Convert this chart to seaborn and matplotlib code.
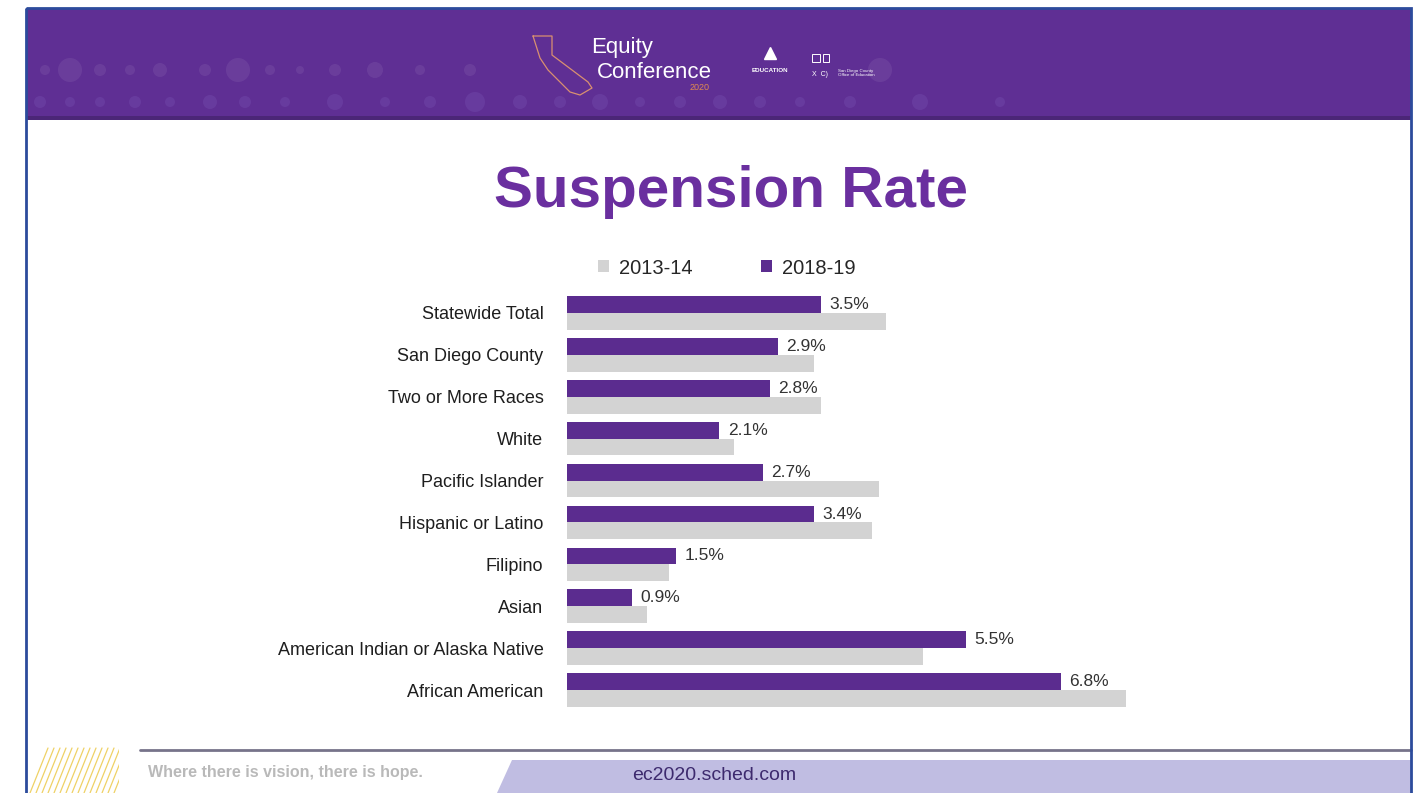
import matplotlib
matplotlib.use("Agg")
import matplotlib.pyplot as plt
import seaborn as sns
import pandas as pd
from matplotlib.patches import Rectangle, Polygon, Circle

categories = ["Statewide Total", "San Diego County", "Two or More Races", "White",
              "Pacific Islander", "Hispanic or Latino", "Filipino", "Asian",
              "American Indian or Alaska Native", "African American"]
rate_2018_19 = [3.5, 2.9, 2.8, 2.1, 2.7, 3.4, 1.5, 0.9, 5.5, 6.8]
rate_2013_14 = [4.4, 3.4, 3.5, 2.3, 4.3, 4.2, 1.4, 1.1, 4.9, 7.7]
series = ["2018-19", "2013-14"]
legend_order = ["2013-14", "2018-19"]
colors = {"2018-19": "#5b2c8f", "2013-14": "#d3d3d3"}

df = pd.DataFrame({
    "category": categories * 2,
    "rate": rate_2018_19 + rate_2013_14,
    "series": ["2018-19"] * len(categories) + ["2013-14"] * len(categories),
})

sns.set_theme(style="white")
plt.rcParams['font.family'] = ['Liberation Sans', 'DejaVu Sans']

W, H = 1421, 793
fig = plt.figure(figsize=(W / 100, H / 100), dpi=100)
fig.patch.set_facecolor("white")

# background / decoration axes in pixel coordinates
bg = fig.add_axes([0, 0, 1, 1])
bg.set_xlim(0, W)
bg.set_ylim(H, 0)
bg.axis("off")

# header band
bg.add_patch(Rectangle((27, 8), 1384, 112, facecolor="#5f2f94", edgecolor="none", zorder=1))
bg.add_patch(Rectangle((27, 116), 1384, 4, facecolor="#4b2677", edgecolor="none", zorder=2))
# decorative dots
dots_row1 = [(45, 5), (70, 12), (100, 6), (130, 5), (160, 7), (205, 6), (238, 12), (270, 5),
             (300, 4), (335, 6), (375, 8), (420, 5), (470, 6), (880, 12)]
dots_row2 = [(40, 6), (70, 5), (100, 5), (135, 6), (170, 5), (210, 7), (245, 6), (285, 5),
             (335, 8), (385, 5), (430, 6), (475, 10), (520, 7), (560, 6), (600, 8), (640, 5),
             (680, 6), (720, 7), (760, 6), (800, 5), (850, 6), (920, 8), (1000, 5)]
for x, r in dots_row1:
    bg.add_patch(Circle((x, 70), r, facecolor="white", alpha=0.07, edgecolor="none", zorder=2))
for x, r in dots_row2:
    bg.add_patch(Circle((x, 102), r, facecolor="#8c6cc8", alpha=0.2, edgecolor="none", zorder=2))

# California outline (decorative)
ca_x = [533, 552, 552, 588, 592, 580, 570, 548, 540, 533]
ca_y = [36, 36, 55, 82, 88, 95, 92, 70, 58, 36]
bg.plot(ca_x, ca_y, color="#d99070", lw=0.9, zorder=3)
bg.text(591, 48, "Equity", color="white", fontsize=16, va="center", ha="left", zorder=4)
bg.text(597, 72, "Conference", color="white", fontsize=16, va="center", ha="left", zorder=4)
bg.text(690, 87, "2020", color="#e08a50", fontsize=6.5, va="center", ha="left", zorder=4)
bg.plot([770], [53], marker="^", color="white", markersize=9, zorder=4)
bg.text(770, 70, "EDUCATION", color="white", fontsize=4.5, fontweight="bold", ha="center", va="center", zorder=4)
bg.add_patch(Rectangle((812, 54), 8, 8, facecolor="none", edgecolor="white", lw=0.7, zorder=4))
bg.add_patch(Rectangle((823, 54), 6, 8, facecolor="none", edgecolor="white", lw=0.7, zorder=4))
bg.text(812, 75, "X  C)", color="white", fontsize=5, va="center", ha="left", zorder=4)
bg.text(838, 73, "San Diego County\nOffice of Education", color="white", fontsize=3.2,
        va="center", ha="left", zorder=4)

# slide border
bg.add_patch(Rectangle((26, 8), 1385, 800, facecolor="none", edgecolor="#2c4b9c", lw=2, zorder=5))

# title
bg.text(731, 207, "Suspension Rate", ha="center", va="baseline", fontsize=42,
        fontweight="bold", color="#6a2f9f", zorder=4)

# footer
bg.plot([140, 1411], [750, 750], color="#77738a", lw=2, zorder=3)
bg.add_patch(Polygon([(497, 793), (512, 760), (1411, 760), (1411, 793)], closed=True,
                     facecolor="#c0bde2", edgecolor="none", zorder=2))
for i in range(16):
    x0 = 30 + i * 6
    bg.plot([x0, x0 + 18], [793, 748], color="#efd266", lw=0.9, zorder=2)
bg.add_patch(Rectangle((0, 745), 28, 50, facecolor="white", edgecolor="none", zorder=2.5))
bg.add_patch(Rectangle((119, 745), 25, 50, facecolor="white", edgecolor="none", zorder=2.5))
bg.text(148, 773, "Where there is vision, there is hope.", color="#b9b9b9", fontsize=11.5,
        fontweight="bold", ha="left", va="center", zorder=4)
bg.text(714, 776, "ec2020.sched.com", color="#3d2a6e", fontsize=14, ha="center",
        va="center", zorder=4)

# bar chart axes
x_max = 8.0
left_px, right_px = 567, 567 + 72.6 * x_max
top_px, bot_px = 292, 711
ax = fig.add_axes([left_px / W, 1 - bot_px / H, (right_px - left_px) / W, (bot_px - top_px) / H])
ax.set_facecolor("none")
sns.barplot(data=df, y="category", x="rate", hue="series", hue_order=series,
            order=categories, palette=colors, orient="h", width=0.8, saturation=1,
            linewidth=0, legend=False, ax=ax)
ax.set_xlim(0, x_max)
ax.set_xlabel("")
ax.set_ylabel("")
ax.set_xticks([])
ax.tick_params(axis="y", length=0, pad=17, labelsize=13, labelcolor="#1e1e1e")
for s in ax.spines.values():
    s.set_visible(False)

ax.bar_label(ax.containers[0], labels=[f"{v:.1f}%" for v in rate_2018_19],
             padding=6, fontsize=12.5, color="#333333")

# legend
handles = [Rectangle((0, 0), 1, 1, facecolor=colors[s], edgecolor="none") for s in legend_order]
fig.legend(handles, legend_order, loc="center left",
           bbox_to_anchor=(598 / W, 1 - 268 / H), bbox_transform=fig.transFigure,
           ncol=2, frameon=False, fontsize=14.5, handlelength=0.55, handleheight=0.55,
           handletextpad=0.5, columnspacing=3.4, borderpad=0, borderaxespad=0)

fig.savefig("out.png", dpi=100, facecolor="white")
